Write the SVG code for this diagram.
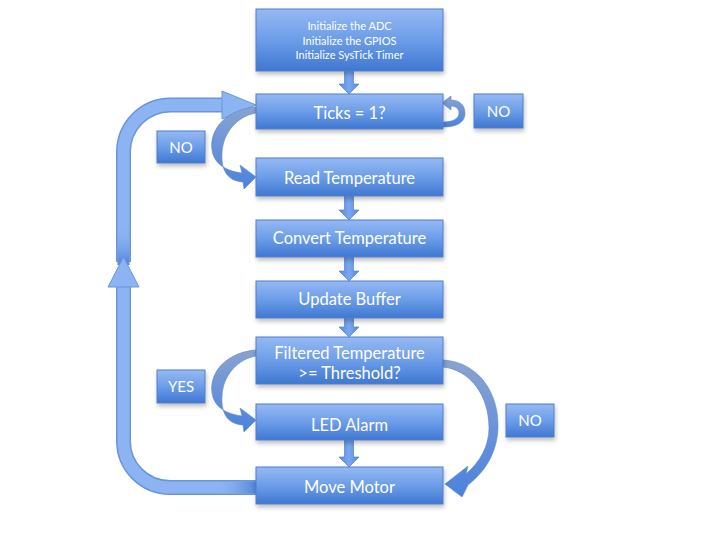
<svg xmlns="http://www.w3.org/2000/svg" width="720" height="540" viewBox="0 0 720 540">
<defs>
<linearGradient id="gBox" x1="0" y1="0" x2="0" y2="1">
<stop offset="0" stop-color="#96b9f3"/>
<stop offset="0.5" stop-color="#6c9de8"/>
<stop offset="1" stop-color="#3f77d1"/>
</linearGradient>
<linearGradient id="gDown" x1="0" y1="0" x2="1" y2="0">
<stop offset="0" stop-color="#5589de"/>
<stop offset="0.5" stop-color="#7aa8ef"/>
<stop offset="1" stop-color="#5589de"/>
</linearGradient>
<linearGradient id="gCurve" x1="0" y1="0" x2="0" y2="1">
<stop offset="0" stop-color="#8aa3cf"/>
<stop offset="0.5" stop-color="#6a93da"/>
<stop offset="1" stop-color="#4a82dc"/>
</linearGradient>
<linearGradient id="gFadeV" x1="0" y1="0" x2="0" y2="1">
<stop offset="0" stop-color="#8cb4f2" stop-opacity="0"/>
<stop offset="1" stop-color="#4f84d8"/>
</linearGradient>
<linearGradient id="gFadeH" x1="0" y1="0" x2="1" y2="0">
<stop offset="0" stop-color="#8cb4f2" stop-opacity="0"/>
<stop offset="1" stop-color="#4f84d8"/>
</linearGradient>
<filter id="sh" x="-10%" y="-20%" width="120%" height="150%">
<feDropShadow dx="1" dy="3" stdDeviation="2" flood-color="#000" flood-opacity="0.25"/>
</filter>
<style>
.box{fill:url(#gBox);stroke:#4f7fcc;stroke-width:1;filter:url(#sh)}
.t{font-family:Lato,"Open Sans","Liberation Sans",sans-serif;fill:#ffffff;text-anchor:middle}
.big{font-size:16.5px}
.small{font-size:11px}
.lbl{font-size:15px}
.dn{fill:url(#gDown);stroke:#5182d2;stroke-width:0.7}
.cv{fill:url(#gCurve);stroke:#5a86d0;stroke-width:0.6}
.loopO{fill:none;stroke:#6a95dc;stroke-width:15}
.loopI{fill:none;stroke:#8cb4f2;stroke-width:12}
.head{fill:#8cb4f2;stroke:#6a95dc;stroke-width:1}
</style>
</defs>
<rect width="720" height="540" fill="#ffffff"/>

<g id="connectors">
<!-- big loop -->
<path class="loopO" d="M 256 487.5 H 170 A 46.5 46.5 0 0 1 123.5 441 V 286"/>
<path class="loopO" d="M 123.5 262 V 152 A 47 47 0 0 1 170.5 105 H 223"/>
<path class="loopI" d="M 256 487.5 H 170 A 46.5 46.5 0 0 1 123.5 441 V 286"/>
<path class="loopI" d="M 123.5 262 V 152 A 47 47 0 0 1 170.5 105 H 223"/>
<rect x="117.5" y="225" width="12" height="40" fill="url(#gFadeV)"/>
<polygon class="head" points="108,287 123.5,257 139,287"/>
<polygon class="head" points="222,91 256,105 222,119"/>
<rect x="216" y="481.5" width="40" height="12" fill="url(#gFadeH)"/>

<!-- straight down arrows -->
<path class="dn" d="M 344.5 71 H 353.5 V 84 H 359 L 349 94 L 339 84 H 344.5 Z"/>
<path class="dn" d="M 344.5 196 H 353.5 V 210 H 359 L 349 220 L 339 210 H 344.5 Z"/>
<path class="dn" d="M 344.5 257 H 353.5 V 271 H 359 L 349 281 L 339 271 H 344.5 Z"/>
<path class="dn" d="M 344.5 318 H 353.5 V 327 H 359 L 349 337 L 339 327 H 344.5 Z"/>
<path class="dn" d="M 344.5 440 H 353.5 V 457 H 359 L 349 467 L 339 457 H 344.5 Z"/>

<!-- small self loop on Ticks -->
<path class="cv" d="M 443 127 C 459 127, 465 121, 465 113 C 465 105, 459 100, 451 100 L 451 96 L 442 103 L 451 110 L 451 106 C 456 106, 459 109, 459 113 C 459 118, 454 122, 443 122 Z"/>

<!-- curved NO arrow Ticks -> Read -->
<path class="cv" d="M 256 107 C 228 109, 209 128, 212 150 C 214 164, 226 171, 242 173 L 240 165 L 256 177 L 244 189 L 243 182 C 226 181, 221 168, 222 153 C 223 132, 238 116, 256 113 Z"/>
<!-- curved YES arrow Filtered -> LED -->
<path class="cv" d="M 256 350 C 228 352, 209 371, 212 393 C 214 407, 226 414, 242 416 L 240 408 L 256 420 L 244 432 L 243 425 C 226 424, 221 411, 222 396 C 223 375, 238 359, 256 356 Z"/>
<!-- curved NO arrow Filtered -> Move Motor -->
<path class="cv" d="M 443 360 C 478 362, 499 392, 498 428 C 497 452, 486 471, 468 485 L 462 497 L 445 484 L 468 466 L 466 474 C 480 462, 489 446, 489 428 C 489 395, 470 370, 443 367 Z"/>
</g>

<g id="init">
<rect class="box" x="256" y="9" width="187" height="62"/>
<text class="t small" x="349.5" y="30">Initialize the ADC</text>
<text class="t small" x="349.5" y="44.5">Initialize the GPIOS</text>
<text class="t small" x="349.5" y="59">Initialize SysTick Timer</text>
</g>
<g id="ticks">
<rect class="box" x="256" y="94" width="187" height="35"/>
<text class="t big" x="349.5" y="119">Ticks = 1?</text>
</g>
<g id="read">
<rect class="box" x="256" y="158" width="187" height="38"/>
<text class="t big" x="349.5" y="184">Read Temperature</text>
</g>
<g id="convert">
<rect class="box" x="256" y="220" width="187" height="37"/>
<text class="t big" x="349.5" y="244">Convert Temperature</text>
</g>
<g id="update">
<rect class="box" x="256" y="281" width="187" height="37"/>
<text class="t big" x="349.5" y="305">Update Buffer</text>
</g>
<g id="filtered">
<rect class="box" x="256" y="337" width="187" height="47"/>
<text class="t big" x="349.5" y="359">Filtered Temperature</text>
<text class="t big" x="349.5" y="379">&gt;= Threshold?</text>
</g>
<g id="led">
<rect class="box" x="256" y="404" width="187" height="36"/>
<text class="t big" x="349.5" y="431">LED Alarm</text>
</g>
<g id="move">
<rect class="box" x="256" y="467" width="187" height="37"/>
<text class="t big" x="349.5" y="493">Move Motor</text>
</g>
<g id="no-top">
<rect class="box" x="474" y="94" width="49" height="34"/>
<text class="t lbl" x="498.5" y="116.5">NO</text>
</g>
<g id="no-left">
<rect class="box" x="157" y="131" width="48" height="32"/>
<text class="t lbl" x="181" y="152.5">NO</text>
</g>
<g id="yes">
<rect class="box" x="157" y="370" width="48" height="33"/>
<text class="t lbl" x="181" y="391.5">YES</text>
</g>
<g id="no-right">
<rect class="box" x="506" y="404" width="48" height="33"/>
<text class="t lbl" x="530" y="425.5">NO</text>
</g>
</svg>
